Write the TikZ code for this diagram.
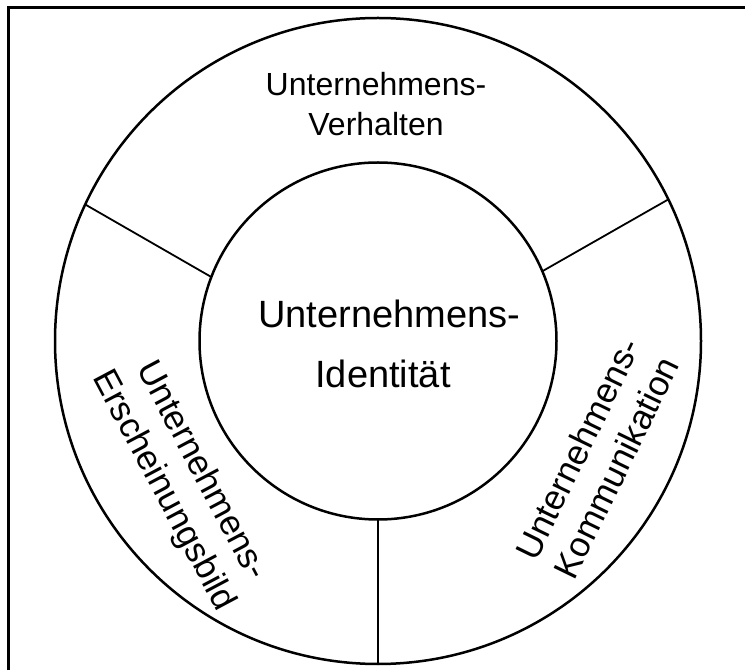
\documentclass[tikz,border=0pt]{standalone}
\usepackage{fontspec}
\setmainfont{Liberation Sans}
\begin{document}
\begin{tikzpicture}[x=1pt,y=1pt,
  ring/.style={circle,draw,line width=2.5pt,inner sep=0pt,outer sep=0pt},
  divider/.style={line width=1.8pt},
  border/.style={line width=2.5pt},
  ringlabel/.style={align=center,inner sep=0pt,font=\fontsize{32}{40}\selectfont},
  sidelabel/.style={align=center,inner sep=0pt,font=\fontsize{35}{43}\selectfont},
  corelabel/.style={align=center,inner sep=0pt,font=\fontsize{38}{60}\selectfont}]
\useasboundingbox (0,0) rectangle (745,670);
\coordinate (tl) at (8.5,662.5);
\coordinate (tr) at (745,662.5);
\coordinate (bl) at (8.5,0);
\draw[border] (bl) -- (tl) -- (tr);
\node[ring,minimum size=646pt] (outer) at (378,329) {};
\node[ring,minimum size=357pt] (inner) at (378,329) {};
\draw[divider] (inner.159.4) -- (outer.155.1);
\draw[divider] (inner.23.3) -- (outer.26.9);
\draw[divider] (inner.270) -- (outer.270.9);
\node[ringlabel] (verhalten) at (376,566) {Unternehmens-\\Verhalten};
\node[corelabel] (identitaet) at (383,326) {Unternehmens\rlap{-}\\Identität};
\node[sidelabel,rotate=-62] (bild) at (182,189) {Unternehmens-\\Erscheinungsbild};
\node[sidelabel,rotate=64] (komm) at (597,212) {Unternehmens-\\Kommunikation};
\end{tikzpicture}
\end{document}
